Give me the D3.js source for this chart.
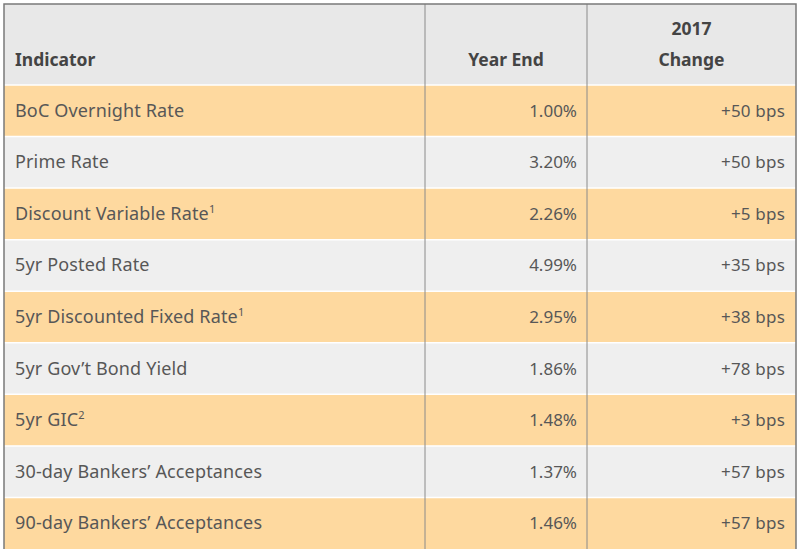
<!DOCTYPE html>
<html>
<head>
<meta charset="utf-8">
<script src="https://cdn.jsdelivr.net/npm/d3@7"></script>
<style>
  body { margin: 0; background: #fff; }
  svg { display: block; font-family: "Noto Sans", "Open Sans", sans-serif; }
</style>
</head>
<body>
<svg id="table" width="800" height="554"></svg>
<script>
// table contents
const indicators = [
    "BoC Overnight Rate",
    "Prime Rate",
    "Discount Variable Rate",
    "5yr Posted Rate",
    "5yr Discounted Fixed Rate",
    "5yr Gov\u2019t Bond Yield",
    "5yr GIC",
    "30-day Bankers\u2019 Acceptances",
    "90-day Bankers\u2019 Acceptances"
];
const notes = ["", "", "1", "", "1", "", "2", "", ""];
const yearEnd = ["1.00%", "3.20%", "2.26%", "4.99%", "2.95%", "1.86%", "1.48%", "1.37%", "1.46%"];
const change = ["+50 bps", "+50 bps", "+5 bps", "+35 bps", "+38 bps", "+78 bps", "+3 bps", "+57 bps", "+57 bps"];
const headers = [["Indicator"], ["Year End"], ["2017", "Change"]];

const svg = d3.select("#table");

const edge = { left: 4, right: 796, top: 4, head: 85, bottom: 549 };
const cols = [edge.left, 425, 587, edge.right];

const y = d3.scaleBand()
    .domain(d3.range(indicators.length))
    .range([edge.head, edge.bottom]);

const colors = { head: "#e8e8e8", odd: "#fed99f", even: "#efefef" };

// header background
svg.append("rect")
    .attr("x", edge.left).attr("y", edge.top)
    .attr("width", edge.right - edge.left).attr("height", edge.head - edge.top)
    .attr("fill", colors.head);

// body rows
const rows = svg.selectAll("g.row")
    .data(indicators)
    .enter().append("g")
    .attr("class", "row")
    .attr("transform", (d, i) => `translate(0,${y(i)})`);

rows.append("rect")
    .attr("x", edge.left)
    .attr("width", edge.right - edge.left)
    .attr("height", y.bandwidth())
    .attr("fill", (d, i) => i % 2 === 0 ? colors.odd : colors.even);

// white row separators
rows.append("line")
    .attr("x1", edge.left).attr("x2", edge.right)
    .attr("y1", 0).attr("y2", 0)
    .attr("stroke", "#fff")
    .attr("stroke-width", 1.5);

const mid = y.bandwidth() / 2 + 6;

const label = rows.append("text")
    .attr("x", cols[0] + 11)
    .attr("y", mid)
    .attr("fill", "#575757")
    .style("font-size", "18px")
    .style("letter-spacing", "0.15px")
    .text(d => d);

label.append("tspan")
    .attr("dy", -7)
    .style("font-size", "11px")
    .text((d, i) => notes[i]);

rows.append("text")
    .attr("x", cols[2] - 10)
    .attr("y", mid)
    .attr("text-anchor", "end")
    .attr("fill", "#575757")
    .style("font-size", "17px")
    .text((d, i) => yearEnd[i]);

rows.append("text")
    .attr("x", cols[3] - 11)
    .attr("y", mid)
    .attr("text-anchor", "end")
    .attr("fill", "#575757")
    .style("font-size", "17px")
    .style("letter-spacing", "0.2px")
    .text((d, i) => change[i]);

// header text
const hx = [cols[0] + 11, (cols[1] + cols[2]) / 2, (cols[2] + cols[3]) / 2];
const anchors = ["start", "middle", "middle"];
headers.forEach((lines, c) => {
    lines.forEach((t, k) => {
        svg.append("text")
            .attr("x", hx[c])
            .attr("y", 66 - (lines.length - 1 - k) * 31)
            .attr("text-anchor", anchors[c])
            .attr("fill", "#444")
            .style("font-size", "17.5px")
            .style("font-weight", "bold")
            .text(t);
    });
});

// borders
svg.selectAll("line.col")
    .data(cols.slice(1, 3))
    .enter().append("line")
    .attr("class", "col")
    .attr("x1", d => d).attr("x2", d => d)
    .attr("y1", edge.top).attr("y2", edge.bottom)
    .attr("stroke", "#8a8a8a")
    .attr("stroke-width", 1);

svg.append("path")
    .attr("d", `M${edge.left},${edge.bottom}V${edge.top}H${edge.right}V${edge.bottom}`)
    .attr("fill", "none")
    .attr("stroke", "#7a7a7a")
    .attr("stroke-width", 1.5);
</script>
</body>
</html>
